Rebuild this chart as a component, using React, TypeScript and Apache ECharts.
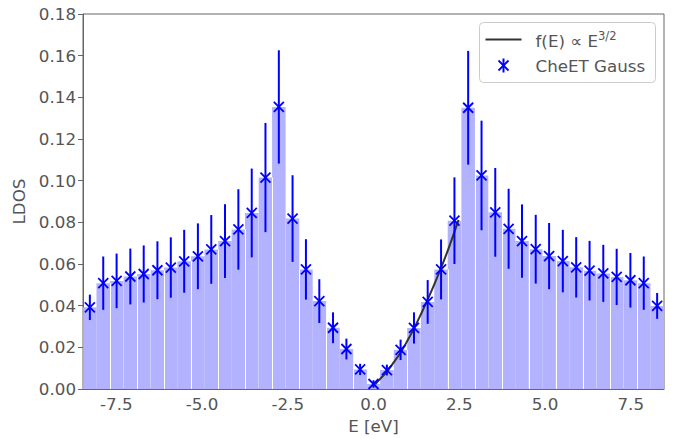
import React, { useEffect, useRef } from "react";
import * as echarts from "echarts";

// Energy grid (bin centres, eV)
const energies = [
  -8.27, -7.88, -7.49, -7.09, -6.70, -6.30, -5.91, -5.52, -5.12, -4.73, -4.33,
  -3.94, -3.55, -3.15, -2.76, -2.36, -1.97, -1.58, -1.18, -0.79, -0.39, 0,
  0.39, 0.79, 1.18, 1.58, 1.97, 2.36, 2.76, 3.15, 3.55, 3.94, 4.33, 4.73, 5.12,
  5.52, 5.91, 6.30, 6.70, 7.09, 7.49, 7.88, 8.27,
];

// CheET Gauss LDOS values
const ldos = [
  0.0392, 0.0508, 0.0519, 0.054, 0.0552, 0.057, 0.0583, 0.0613, 0.0637, 0.067,
  0.071, 0.0766, 0.0845, 0.1015, 0.1354, 0.0818, 0.0574, 0.0422, 0.0294, 0.0192,
  0.0094, 0.0024, 0.0091, 0.0188, 0.0293, 0.0418, 0.0574, 0.0808, 0.135, 0.1025,
  0.0848, 0.0769, 0.071, 0.0671, 0.0638, 0.0614, 0.0584, 0.0568, 0.0555, 0.0538,
  0.0522, 0.0508, 0.0399,
];

// error bar half-lengths
const ldosErr = [
  0.0061, 0.0128, 0.0131, 0.0134, 0.0137, 0.0139, 0.0145, 0.0151, 0.0158, 0.0165,
  0.0177, 0.0193, 0.0213, 0.0262, 0.0272, 0.0208, 0.0145, 0.0105, 0.0074, 0.005,
  0.0027, 0.0018, 0.0026, 0.0049, 0.0075, 0.0105, 0.0144, 0.0208, 0.0273, 0.0263,
  0.0213, 0.0192, 0.0176, 0.0165, 0.0159, 0.015, 0.0145, 0.0143, 0.0137, 0.0135,
  0.0131, 0.0128, 0.0062,
];

// f(E) ∝ E^{3/2} curve
const curveE = [0.05, 0.2, 0.4, 0.6, 0.8, 1.0, 1.2, 1.4, 1.6, 1.8, 2.0, 2.2, 2.48];
const curveF = [
  0.0022, 0.005, 0.0085, 0.013, 0.0178, 0.0235, 0.0297, 0.0365, 0.0437, 0.0513,
  0.0594, 0.068, 0.0812,
];

const xTicks = [-7.5, -5, -2.5, 0, 2.5, 5, 7.5];

// bins after which a white separator is visible
const edgeAfter = [1, 3, 5, 7, 9, 11, 13, 15, 17, 19, 23, 26, 28, 30, 32, 34, 36, 38, 40];

const BIN_W = 0.394;
const FONT = "DejaVu Sans";
const FS = 16.7;
const TXT = "#555555";
const AX = "#666666";
const BLUE = "#0000ff";

export default function App() {
  const ref = useRef<HTMLDivElement>(null);

  useEffect(() => {
    if (!ref.current) return;
    const chart = echarts.init(ref.current, undefined, { renderer: "svg" });

    const barData = energies.map((e, i) => [e, ldos[i]]);
    const edgeData = edgeAfter.map((i) => [
      (energies[i] + energies[i + 1]) / 2,
      Math.min(ldos[i], ldos[i + 1]),
    ]);
    const errData = energies.map((e, i) => [e, ldos[i], ldosErr[i]]);
    const curveData = curveE.map((e, i) => [e, curveF[i]]);

    const option: any = {
      animation: false,
      backgroundColor: "#ffffff",
      grid: {
        left: 83,
        right: 13,
        top: 14,
        bottom: 49,
        show: true,
        borderColor: AX,
        borderWidth: 1,
        backgroundColor: "transparent",
      },
      xAxis: {
        type: "value",
        min: -8.47,
        max: 8.47,
        name: "E [eV]",
        nameLocation: "middle",
        nameGap: 28,
        nameTextStyle: { fontFamily: FONT, fontSize: FS, color: TXT },
        axisLine: { show: true, onZero: false, lineStyle: { color: AX, width: 1 } },
        axisTick: {
          show: true,
          inside: true,
          length: 4,
          customValues: xTicks,
          lineStyle: { color: AX, width: 1 },
        },
        axisLabel: {
          customValues: xTicks,
          margin: 6,
          fontFamily: FONT,
          fontSize: FS,
          color: TXT,
          formatter: (v: number) => v.toFixed(1),
        },
        splitLine: { show: false },
      },
      yAxis: {
        type: "value",
        min: 0,
        max: 0.18,
        interval: 0.02,
        name: "LDOS",
        nameLocation: "middle",
        nameGap: 55,
        nameTextStyle: { fontFamily: FONT, fontSize: FS, color: TXT },
        axisLine: { show: true, onZero: false, lineStyle: { color: AX, width: 1 } },
        axisTick: { show: true, inside: false, length: 5, lineStyle: { color: AX, width: 1 } },
        axisLabel: {
          margin: 7,
          fontFamily: FONT,
          fontSize: FS,
          color: TXT,
          formatter: (v: number) => v.toFixed(2),
        },
        splitLine: { show: false },
      },
      series: [
        {
          type: "custom",
          name: "bars",
          z: 1,
          data: barData,
          renderItem: (params: any, api: any) => {
            const x = api.value(0);
            const h = api.value(1);
            const p0 = api.coord([x - BIN_W / 2, h]);
            const p1 = api.coord([x + BIN_W / 2, 0]);
            return {
              type: "rect",
              shape: { x: p0[0], y: p0[1], width: p1[0] - p0[0], height: p1[1] - p0[1] },
              style: { fill: "rgb(178,178,255)" },
            };
          },
        },
        {
          type: "custom",
          name: "edges",
          z: 2,
          data: edgeData,
          renderItem: (params: any, api: any) => {
            const x = api.value(0);
            const h = api.value(1);
            const p0 = api.coord([x, h]);
            const p1 = api.coord([x, 0]);
            const px = Math.round(p0[0]) + 0.5;
            return {
              type: "line",
              shape: { x1: px, y1: p0[1], x2: px, y2: p1[1] },
              style: { stroke: "#ffffff", lineWidth: 1 },
            };
          },
        },
        {
          type: "line",
          name: "curve",
          z: 3,
          data: curveData,
          smooth: true,
          showSymbol: false,
          symbol: "none",
          lineStyle: { color: "#333333", width: 2 },
        },
        {
          type: "custom",
          name: "CheET Gauss",
          z: 4,
          data: errData,
          renderItem: (params: any, api: any) => {
            const x = api.value(0);
            const y = api.value(1);
            const e = api.value(2);
            const t = api.coord([x, y + e]);
            const b = api.coord([x, y - e]);
            const c = api.coord([x, y]);
            const s = 5;
            const st = { stroke: BLUE, lineWidth: 2 };
            return {
              type: "group",
              children: [
                { type: "line", shape: { x1: t[0], y1: t[1], x2: b[0], y2: b[1] }, style: st },
                { type: "line", shape: { x1: c[0] - s, y1: c[1] - s, x2: c[0] + s, y2: c[1] + s }, style: { stroke: BLUE, lineWidth: 1.8 } },
                { type: "line", shape: { x1: c[0] - s, y1: c[1] + s, x2: c[0] + s, y2: c[1] - s }, style: { stroke: BLUE, lineWidth: 1.8 } },
              ],
            };
          },
        },
      ],
      graphic: [
        {
          type: "group",
          left: 479,
          top: 22,
          children: [
            {
              type: "rect",
              shape: { x: 0, y: 0, width: 176, height: 60, r: 4 },
              style: { fill: "rgba(255,255,255,0.85)", stroke: "#cccccc", lineWidth: 1 },
            },
            {
              type: "line",
              shape: { x1: 6, y1: 17, x2: 42, y2: 17 },
              style: { stroke: "#333333", lineWidth: 2 },
            },
            {
              type: "text",
              x: 56,
              y: 18,
              style: {
                text: "f(E) ∝ E{sup|3/2}",
                fontFamily: FONT,
                fontSize: FS,
                fill: TXT,
                verticalAlign: "middle",
                rich: {
                  sup: {
                    fontFamily: FONT,
                    fontSize: 11.5,
                    fill: TXT,
                    padding: [0, 0, 9, 0],
                  },
                },
              },
            },
            { type: "line", shape: { x1: 24, y1: 36, x2: 24, y2: 50 }, style: { stroke: BLUE, lineWidth: 2 } },
            { type: "line", shape: { x1: 19, y1: 38, x2: 29, y2: 48 }, style: { stroke: BLUE, lineWidth: 1.8 } },
            { type: "line", shape: { x1: 19, y1: 48, x2: 29, y2: 38 }, style: { stroke: BLUE, lineWidth: 1.8 } },
            {
              type: "text",
              x: 56,
              y: 43,
              style: {
                text: "CheET Gauss",
                fontFamily: FONT,
                fontSize: FS,
                fill: TXT,
                verticalAlign: "middle",
              },
            },
          ],
        },
      ],
    };

    chart.setOption(option);
    return () => chart.dispose();
  }, []);

  return (
    <div
      ref={ref}
      style={{ position: "fixed", left: 0, top: 0, width: 677, height: 439, background: "#fff" }}
    />
  );
}
